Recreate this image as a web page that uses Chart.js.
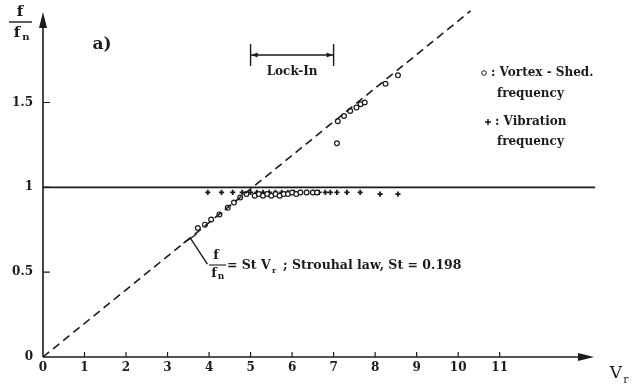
<!DOCTYPE html>
<html>
<head>
<meta charset="utf-8">
<script src="https://cdn.jsdelivr.net/npm/chart.js@4"></script>
<style>
  html, body { margin: 0; padding: 0; background: #fff; }
  #chart { display: block; }
</style>
</head>
<body>
<canvas id="chart" width="636" height="388"></canvas>
<script>
// reduced velocity Vr vs frequency ratio f/fn
const xTicks = [0, 1, 2, 3, 4, 5, 6, 7, 8, 9, 10, 11];
const yTicks = [0, 0.5, 1, 1.5];

// Strouhal law line, St = 0.198
const strouhalX = [0, 10.3];
const strouhalY = [0, 2.04];

// natural frequency reference f/fn = 1
const unityX = [0, 13.3];
const unityY = [1, 1];

// vortex shedding frequency (o)
const sheddingX = [3.73, 3.9, 4.05, 4.25, 4.45, 4.6, 4.75, 4.9,
  5.1, 5.2, 5.3, 5.4, 5.5, 5.6, 5.7, 5.8, 5.9, 6.0, 6.1, 6.2, 6.35, 6.5, 6.6,
  7.08, 7.1, 7.25, 7.4, 7.55, 7.65, 7.75, 8.25, 8.55];
const sheddingY = [0.76, 0.78, 0.81, 0.84, 0.88, 0.91, 0.94, 0.96,
  0.95, 0.96, 0.95, 0.96, 0.95, 0.96, 0.95, 0.96, 0.96, 0.97, 0.96, 0.97, 0.97, 0.97, 0.97,
  1.26, 1.39, 1.42, 1.45, 1.47, 1.49, 1.5, 1.61, 1.66];

// vibration frequency (+)
const vibrationX = [3.97, 4.3, 4.57, 4.8, 5.0, 5.15, 5.3, 5.45, 5.6, 5.75, 5.9, 6.05,
  6.2, 6.35, 6.5, 6.65, 6.8, 6.92, 7.08, 7.32, 7.64, 8.12, 8.55];
const vibrationY = [0.97, 0.97, 0.97, 0.97, 0.97, 0.97, 0.97, 0.97, 0.97, 0.97, 0.97, 0.97,
  0.97, 0.97, 0.97, 0.97, 0.97, 0.97, 0.97, 0.97, 0.97, 0.96, 0.96];

const FONT = "'DejaVu Serif', serif";
const INK = "#1b1b1b";

const toPoints = (xs, ys) => xs.map((x, i) => ({ x: x, y: ys[i] }));

// axis lines with arrows, inward ticks and the text notes
const decorations = {
  id: "decorations",
  afterDraw(chart) {
    const ctx = chart.ctx;
    const xs = chart.scales.x;
    const ys = chart.scales.y;
    const x0 = xs.getPixelForValue(0);
    const y0 = ys.getPixelForValue(0);

    ctx.save();
    ctx.strokeStyle = INK;
    ctx.fillStyle = INK;
    ctx.lineWidth = 1.6;

    // axes
    ctx.beginPath();
    ctx.moveTo(x0, y0);
    ctx.lineTo(586, y0);
    ctx.moveTo(x0, y0);
    ctx.lineTo(x0, 16);
    ctx.stroke();

    ctx.beginPath();
    ctx.moveTo(594, y0);
    ctx.lineTo(578, y0 - 4);
    ctx.lineTo(578, y0 + 4);
    ctx.closePath();
    ctx.fill();
    ctx.beginPath();
    ctx.moveTo(x0, 12);
    ctx.lineTo(x0 - 4, 28);
    ctx.lineTo(x0 + 4, 28);
    ctx.closePath();
    ctx.fill();

    // ticks pointing into the plot
    ctx.lineWidth = 1.2;
    ctx.beginPath();
    xTicks.forEach(v => {
      if (v === 0) return;
      const px = xs.getPixelForValue(v);
      ctx.moveTo(px, y0);
      ctx.lineTo(px, y0 - 5);
    });
    yTicks.forEach(v => {
      if (v === 0) return;
      const py = ys.getPixelForValue(v);
      ctx.moveTo(x0, py);
      ctx.lineTo(x0 + 7, py);
    });
    ctx.stroke();

    // axis titles
    ctx.textAlign = "center";
    ctx.textBaseline = "middle";
    ctx.font = "bold 15px " + FONT;
    ctx.fillText("f", 20, 12);
    ctx.fillText("f", 17, 33);
    ctx.font = "bold 10px " + FONT;
    ctx.fillText("n", 26, 37);
    ctx.lineWidth = 1.4;
    ctx.beginPath();
    ctx.moveTo(9, 22);
    ctx.lineTo(32, 22);
    ctx.stroke();

    ctx.font = "17px " + FONT;
    ctx.fillText("V", 616, 374);
    ctx.font = "11px " + FONT;
    ctx.fillText("r", 626, 380);

    ctx.font = "bold 17px " + FONT;
    ctx.fillText("a)", 102, 45);

    // lock-in range
    const lx1 = xs.getPixelForValue(5);
    const lx2 = xs.getPixelForValue(7);
    const ly = ys.getPixelForValue(1.78);
    ctx.lineWidth = 1.4;
    ctx.beginPath();
    ctx.moveTo(lx1, ly - 11);
    ctx.lineTo(lx1, ly + 11);
    ctx.moveTo(lx2, ly - 11);
    ctx.lineTo(lx2, ly + 11);
    ctx.moveTo(lx1, ly);
    ctx.lineTo(lx2, ly);
    ctx.stroke();
    ctx.beginPath();
    ctx.moveTo(lx1 + 1, ly);
    ctx.lineTo(lx1 + 7, ly - 2.5);
    ctx.lineTo(lx1 + 7, ly + 2.5);
    ctx.closePath();
    ctx.moveTo(lx2 - 1, ly);
    ctx.lineTo(lx2 - 7, ly - 2.5);
    ctx.lineTo(lx2 - 7, ly + 2.5);
    ctx.closePath();
    ctx.fill();
    ctx.font = "bold 12px " + FONT;
    ctx.fillText("Lock-In", (lx1 + lx2) / 2, ly + 17);

    // legend notes
    ctx.textAlign = "left";
    ctx.font = "bold 12px " + FONT;
    ctx.lineWidth = 1;
    ctx.beginPath();
    ctx.arc(484, 73, 2.3, 0, Math.PI * 2);
    ctx.stroke();
    ctx.fillText(": Vortex - Shed.", 491, 73);
    ctx.fillText("frequency", 497, 94);
    ctx.lineWidth = 1.5;
    ctx.beginPath();
    ctx.moveTo(485, 122);
    ctx.lineTo(491, 122);
    ctx.moveTo(488, 119);
    ctx.lineTo(488, 125);
    ctx.stroke();
    ctx.fillText(": Vibration", 495, 122);
    ctx.fillText("frequency", 497, 142);

    // Strouhal note with leader
    const sx = xs.getPixelForValue(3.55);
    const sy = ys.getPixelForValue(0.7);
    ctx.lineWidth = 1.4;
    ctx.beginPath();
    ctx.moveTo(sx - 7, sy + 5);
    ctx.lineTo(sx + 6, sy - 4);
    ctx.moveTo(sx, sy);
    ctx.lineTo(sx + 17, sy + 26);
    ctx.stroke();

    ctx.textAlign = "center";
    ctx.font = "bold 13px " + FONT;
    ctx.fillText("f", 216, 256);
    ctx.fillText("f", 214, 274);
    ctx.font = "bold 9px " + FONT;
    ctx.fillText("n", 221, 277);
    ctx.lineWidth = 1.1;
    ctx.beginPath();
    ctx.moveTo(209, 265);
    ctx.lineTo(226, 265);
    ctx.stroke();

    ctx.textAlign = "left";
    ctx.font = "bold 12.5px " + FONT;
    ctx.fillText("= St V", 227, 266);
    ctx.font = "bold 8px " + FONT;
    ctx.fillText("r", 272, 271);
    ctx.font = "bold 12.5px " + FONT;
    ctx.fillText("; Strouhal law, St = 0.198", 283, 266);

    ctx.restore();
  }
};

new Chart(document.getElementById("chart"), {
  type: "scatter",
  data: {
    datasets: [
      {
        data: toPoints(strouhalX, strouhalY),
        showLine: true,
        borderColor: INK,
        borderWidth: 1.6,
        borderDash: [8, 5],
        pointRadius: 0
      },
      {
        data: toPoints(unityX, unityY),
        showLine: true,
        borderColor: INK,
        borderWidth: 1.8,
        pointRadius: 0
      },
      {
        data: toPoints(sheddingX, sheddingY),
        pointStyle: "circle",
        pointRadius: 2.4,
        borderWidth: 1.2,
        borderColor: INK,
        backgroundColor: "#fff"
      },
      {
        data: toPoints(vibrationX, vibrationY),
        pointStyle: "cross",
        pointRadius: 2.6,
        borderWidth: 1.8,
        borderColor: INK
      }
    ]
  },
  options: {
    responsive: false,
    devicePixelRatio: 1,
    animation: false,
    clip: false,
    layout: { padding: { top: 0, right: 45, left: 0, bottom: 0 } },
    plugins: { legend: { display: false }, tooltip: { enabled: false } },
    scales: {
      x: {
        type: "linear",
        min: 0,
        max: 13.2,
        grid: { display: false, drawTicks: false },
        border: { display: false },
        afterBuildTicks: s => { s.ticks = xTicks.map(v => ({ value: v })); },
        afterFit: s => { s.height = 31; s.paddingLeft = 0; s.paddingRight = 0; },
        ticks: {
          padding: 4,
          color: INK,
          font: { family: FONT, size: 12, weight: "bold" },
          callback: v => String(v)
        }
      },
      y: {
        min: 0,
        max: 2.07,
        grid: { display: false, drawTicks: false },
        border: { display: false },
        afterBuildTicks: s => { s.ticks = yTicks.map(v => ({ value: v })); },
        afterFit: s => { s.width = 43; s.paddingTop = 0; s.paddingBottom = 0; },
        ticks: {
          padding: 10,
          color: INK,
          font: { family: FONT, size: 12, weight: "bold" },
          callback: v => String(v)
        }
      }
    }
  },
  plugins: [decorations]
});
</script>
</body>
</html>
